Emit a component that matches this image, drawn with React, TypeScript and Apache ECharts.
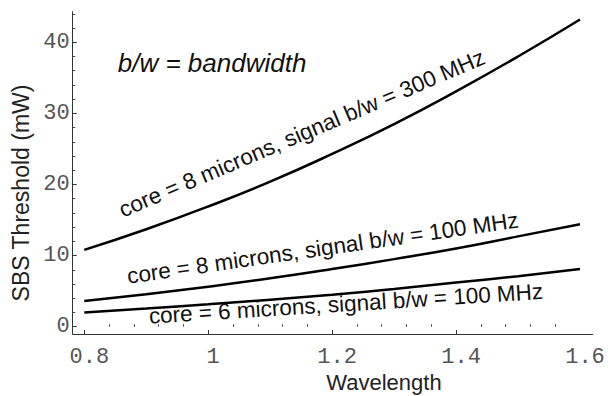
import React, { useEffect, useRef } from "react";
import * as echarts from "echarts";

// ---- data ----
const wavelength = [0.8, 0.9, 1.0, 1.1, 1.2, 1.3, 1.4, 1.5, 1.6];
const core8bw300 = [10.8, 13.7, 16.9, 20.4, 24.3, 28.5, 33.1, 38.0, 43.2];
const core8bw100 = [3.6, 4.56, 5.63, 6.8, 8.1, 9.5, 11.0, 12.7, 14.4];
const core6bw100 = [2.0, 2.55, 3.15, 3.8, 4.5, 5.3, 6.2, 7.1, 8.1];

const curveLabels = [
  "core = 8 microns, signal b/w = 300 MHz",
  "core = 8 microns, signal b/w = 100 MHz",
  "core = 6 microns, signal b/w = 100 MHz",
];
// label anchors in data coordinates and rotation (degrees)
const labelAnchorX = [0.862, 0.871, 0.905];
const labelAnchorY = [15.4, 6.1, 0.48];
const labelAngle = [23, 8.2, 3.6];

const noteText = "b/w = bandwidth";
const noteAnchor = [0.854, 35.9];

const xTickValues = [0.8, 1, 1.2, 1.4, 1.6];
const xTickLabels = ["0.8", "1", "1.2", "1.4", "1.6"];
const xMajorTickMarks = [0.8, 1, 1.2, 1.4];
const xMinorTicks = [
  0.84, 0.88, 0.92, 0.96, 1.04, 1.08, 1.12, 1.16, 1.24, 1.28, 1.32, 1.36, 1.44,
  1.48, 1.52, 1.56,
];
const yTickValues = [0, 10, 20, 30, 40];
const yTickLabels = ["0", "10", "20", "30", "40"];
const yMinorTicks = [
  2, 4, 6, 8, 12, 14, 16, 18, 22, 24, 26, 28, 32, 34, 36, 38, 42, 44,
];

const xName = "Wavelength";
const yName = "SBS Threshold (mW)";

const X_MIN = 0.7813;
const X_MAX = 1.6205;
const Y_MIN = -1.03;
const Y_MAX = 44.3;

const SANS = "Liberation Sans, Arial, Helvetica, sans-serif";
const MONO = "Liberation Mono, Courier New, monospace";

export default function App() {
  const ref = useRef<HTMLDivElement>(null);

  useEffect(() => {
    document.body.style.margin = "0";
    const chart = echarts.init(ref.current!, null, { renderer: "svg" });

    const toPairs = (ys: number[]) => wavelength.map((x, i) => [x, ys[i]]);
    const lineSeries = (name: string, ys: number[]) => ({
      name,
      type: "line",
      xAxisIndex: 0,
      yAxisIndex: 0,
      data: toPairs(ys),
      smooth: true,
      showSymbol: false,
      symbol: "none",
      lineStyle: { color: "#000", width: 2.5 },
      z: 3,
    });

    const baseX = {
      type: "value",
      min: X_MIN,
      max: X_MAX,
      position: "bottom",
      splitLine: { show: false },
    };
    const baseY = {
      type: "value",
      min: Y_MIN,
      max: Y_MAX,
      position: "left",
      splitLine: { show: false },
    };

    chart.setOption({
      animation: false,
      backgroundColor: "#fff",
      grid: { left: 72.7, top: 11.7, width: 520, height: 322.3, containLabel: false },
      xAxis: [
        {
          ...baseX,
          axisLine: { show: true, onZero: false, lineStyle: { color: "#333", width: 1 } },
          axisTick: {
            show: true,
            inside: true,
            length: 4,
            customValues: xMajorTickMarks,
            lineStyle: { color: "#333" },
          },
          axisLabel: {
            show: true,
            customValues: xTickValues,
            formatter: (v: number) => {
              const i = xTickValues.findIndex((t) => Math.abs(t - v) < 1e-6);
              return i >= 0 ? xTickLabels[i] : "";
            },
            fontFamily: MONO,
            fontSize: 22,
            color: "#555",
            margin: 12,
            padding: [0, 0, 0, 10],
          },
        },
        {
          ...baseX,
          axisLine: { show: false },
          axisTick: {
            show: true,
            inside: true,
            length: 2.5,
            customValues: xMinorTicks,
            lineStyle: { color: "#444" },
          },
          axisLabel: { show: false },
        },
      ],
      yAxis: [
        {
          ...baseY,
          axisLine: { show: true, onZero: false, lineStyle: { color: "#333", width: 1 } },
          axisTick: {
            show: true,
            inside: true,
            length: 4,
            customValues: yTickValues,
            lineStyle: { color: "#333" },
          },
          axisLabel: {
            show: true,
            customValues: yTickValues,
            formatter: (v: number) => {
              const i = yTickValues.findIndex((t) => Math.abs(t - v) < 1e-6);
              return i >= 0 ? yTickLabels[i] : "";
            },
            fontFamily: MONO,
            fontSize: 22,
            color: "#555",
            margin: 3,
          },
        },
        {
          ...baseY,
          axisLine: { show: false },
          axisTick: {
            show: true,
            inside: true,
            length: 2.5,
            customValues: yMinorTicks,
            lineStyle: { color: "#444" },
          },
          axisLabel: { show: false },
        },
      ],
      series: [
        lineSeries(curveLabels[0], core8bw300),
        lineSeries(curveLabels[1], core8bw100),
        lineSeries(curveLabels[2], core6bw100),
      ],
    });

    const elements: any[] = [];
    curveLabels.forEach((text, i) => {
      const p = chart.convertToPixel({ gridIndex: 0 }, [labelAnchorX[i], labelAnchorY[i]]) as number[];
      const a = (labelAngle[i] * Math.PI) / 180;
      const off = 4.5;
      elements.push({
        type: "text",
        x: p[0] + off * Math.sin(a),
        y: p[1] + off * Math.cos(a),
        rotation: a,
        style: {
          text,
          fill: "#111",
          font: `22.5px ${SANS}`,
          align: "left",
          verticalAlign: "bottom",
        },
        z: 10,
      });
    });
    const np = chart.convertToPixel({ gridIndex: 0 }, noteAnchor) as number[];
    elements.push({
      type: "text",
      x: np[0],
      y: np[1] + 5,
      style: {
        text: noteText,
        fill: "#111",
        font: `italic 26px ${SANS}`,
        align: "left",
        verticalAlign: "bottom",
      },
      z: 10,
    });
    elements.push({
      type: "text",
      x: 384,
      y: 382,
      style: {
        text: xName,
        fill: "#222",
        font: `22px ${SANS}`,
        align: "center",
        verticalAlign: "middle",
      },
    });
    elements.push({
      type: "text",
      x: 21,
      y: 193,
      rotation: Math.PI / 2,
      style: {
        text: yName,
        fill: "#222",
        font: `23px ${SANS}`,
        align: "center",
        verticalAlign: "middle",
      },
    });
    chart.setOption({ graphic: { elements } });

    return () => chart.dispose();
  }, []);

  return <div ref={ref} style={{ width: 608, height: 396 }} />;
}
